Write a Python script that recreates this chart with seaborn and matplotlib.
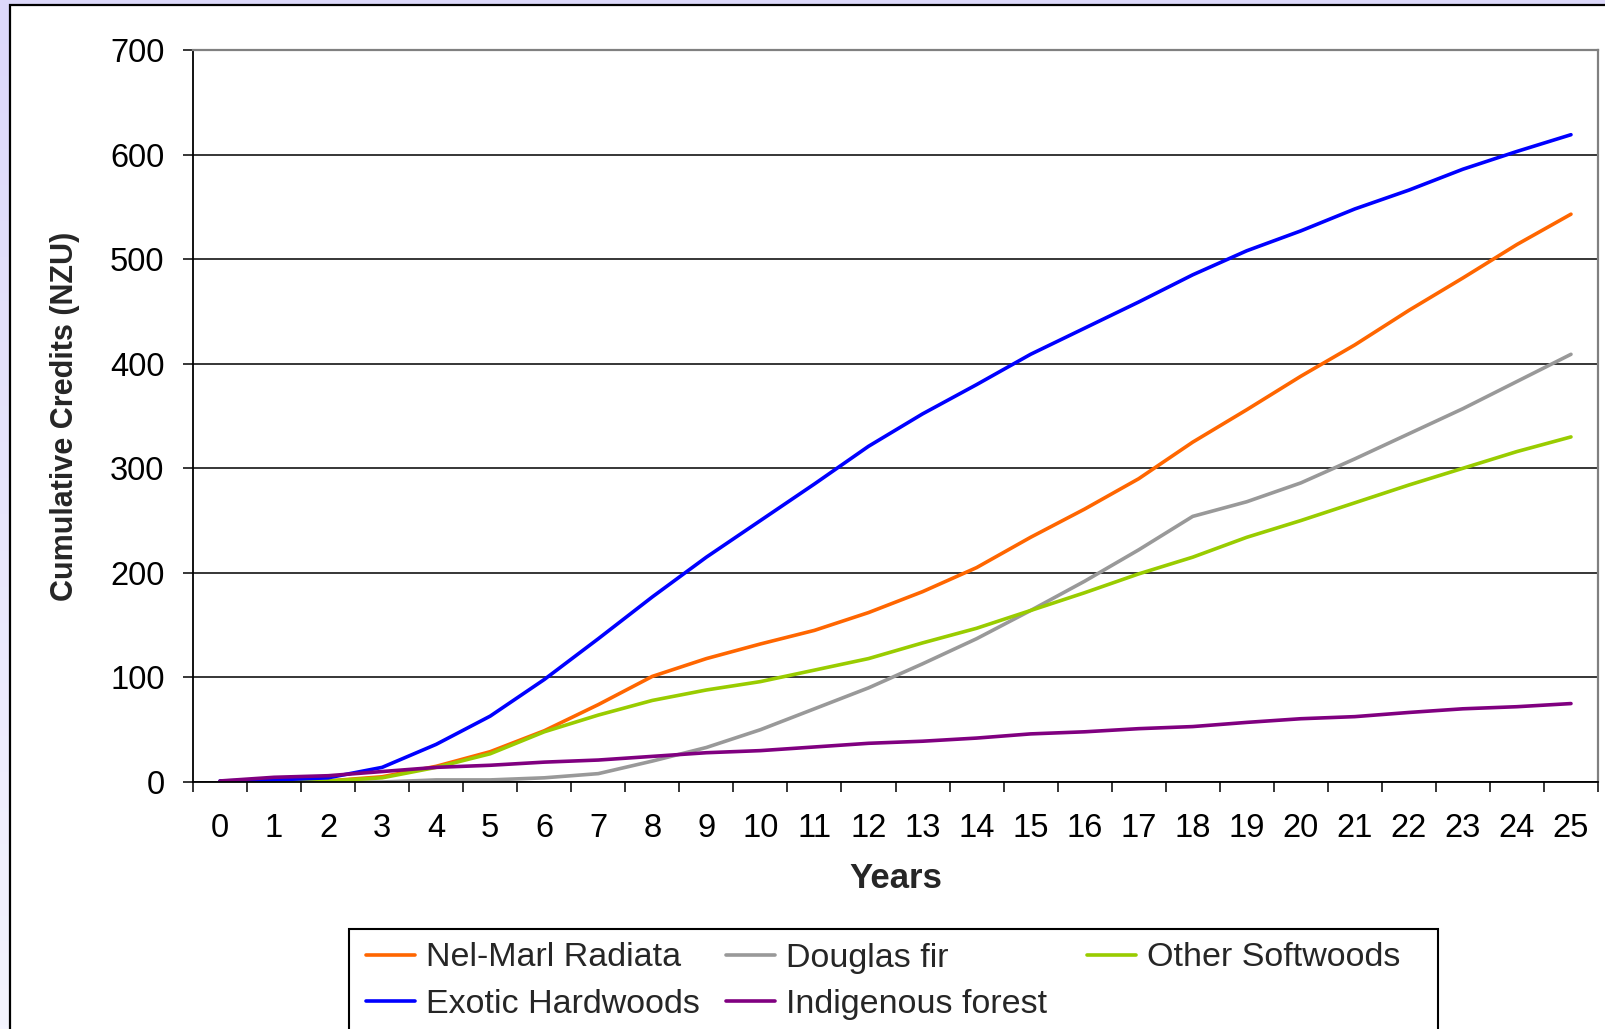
import numpy as np
import pandas as pd
import matplotlib
matplotlib.use("Agg")
import matplotlib.pyplot as plt
import seaborn as sns
from matplotlib.patches import Rectangle
from matplotlib.lines import Line2D

# Cumulative carbon credits (NZU) by years since planting
years = list(range(26))
nel_marl_radiata = [0, 0, 1, 5, 15, 29, 49, 74, 101, 118, 132, 145, 162, 182, 205,
                    234, 261, 290, 325, 356, 388, 418, 451, 482, 514, 543]
douglas_fir = [0, 0, 0, 0, 2, 2, 4, 8, 20, 33, 50, 70, 90, 113, 137,
               164, 192, 222, 254, 268, 286, 309, 333, 357, 383, 409]
other_softwoods = [0, 0, 1, 4, 14, 27, 48, 64, 78, 88, 96, 107, 118, 133, 147,
                   164, 181, 199, 215, 234, 250, 267, 284, 300, 316, 330]
exotic_hardwoods = [1, 2, 4, 14, 36, 63, 98, 137, 177, 215, 250, 285, 321, 352, 380,
                    409, 434, 459, 485, 508, 527, 548, 566, 586, 603, 619]
indigenous_forest = [1, 4.5, 6, 10, 14, 16, 19, 21, 24.5, 28, 30, 33.5, 37, 39, 42,
                     46, 48, 51, 53, 57, 60.5, 62.5, 66.5, 70, 72, 75]

series_names = ["Nel-Marl Radiata", "Douglas fir", "Other Softwoods",
                "Exotic Hardwoods", "Indigenous forest"]
series_values = [nel_marl_radiata, douglas_fir, other_softwoods,
                 exotic_hardwoods, indigenous_forest]
series_colors = ["#FF6600", "#999999", "#99CC00", "#0000FF", "#800080"]
# legend laid out in three equal-width columns
legend_columns = [["Nel-Marl Radiata", "Exotic Hardwoods"],
                  ["Douglas fir", "Indigenous forest"],
                  ["Other Softwoods"]]

df = pd.concat(
    [pd.DataFrame({"Year": years, "Credits": vals, "Series": name})
     for name, vals in zip(series_names, series_values)],
    ignore_index=True,
)
palette = dict(zip(series_names, series_colors))

sns.set_style("white")
plt.rcParams["font.family"] = ["Liberation Sans", "DejaVu Sans"]

W, H = 1606, 1029
fig = plt.figure(figsize=(W / 100, H / 100), dpi=100)

# lavender page background with soft vertical fade
bg = fig.add_axes([0, 0, 1, 1], zorder=-10)
grad = np.linspace(0, 1, 256).reshape(-1, 1)
top_c = np.array([220, 216, 250]) / 255
bot_c = np.array([244, 244, 255]) / 255
img = top_c[None, None, :] * (1 - grad[..., None]) + bot_c[None, None, :] * grad[..., None]
bg.imshow(img, aspect="auto", extent=[0, 1, 0, 1])
bg.set_axis_off()

# white chart panel with black border
fig.patches.append(Rectangle((10 / W, -0.05), 1.2, 1 - 5 / H + 0.05,
                             transform=fig.transFigure, facecolor="white",
                             edgecolor="black", linewidth=1.6, zorder=-5))

ax = fig.add_axes([193 / W, 1 - 782 / H, (1598 - 193) / W, (782 - 50) / H])
ax.set_facecolor("white")
sns.lineplot(data=df, x="Year", y="Credits", hue="Series", hue_order=series_names,
             palette=palette, linewidth=2.6, legend=False, sort=False, ax=ax)

ax.set_xlim(-0.5, 25.5)
ax.set_ylim(0, 700)
ax.set_xticks(years)
ax.set_xticklabels([str(y) for y in years])
ax.set_xticks(np.arange(-0.5, 26, 1), minor=True)
ax.set_yticks(range(0, 701, 100))

ax.tick_params(axis="x", which="major", bottom=True, length=0, pad=22,
               labelsize=23.5, labelcolor="black")
ax.tick_params(axis="x", which="minor", bottom=True, length=7.5, width=1.1,
               color="black", direction="out")
ax.tick_params(axis="y", which="major", left=True, length=7.5, width=1.1,
               color="black", direction="out", pad=13, labelsize=23.5,
               labelcolor="black")

ax.grid(axis="y", color="black", linewidth=1.1)
ax.grid(axis="x", visible=False)
ax.set_axisbelow(True)

for side in ("left", "bottom"):
    ax.spines[side].set_color("black")
    ax.spines[side].set_linewidth(1.3)
for side in ("top", "right"):
    ax.spines[side].set_color("#808080")
    ax.spines[side].set_linewidth(1.6)

ax.set_xlabel("Years", fontsize=25, fontweight="bold", va="center")
ax.xaxis.set_label_coords(0.5, (782 - 878) / 732)
ax.set_ylabel("Cumulative Credits (NZU)", fontsize=22, fontweight="bold", va="center")
ax.yaxis.set_label_coords((65 - 193) / 1405, 0.5)

# legend frame
fig.patches.append(Rectangle((349 / W, -0.05), (1438 - 349) / W, 1 - 929 / H + 0.05,
                             transform=fig.transFigure, facecolor="white",
                             edgecolor="black", linewidth=1.5, zorder=1))

col_x = [366, 726, 1087]
for x0, names in zip(col_x, legend_columns):
    hs = [Line2D([], [], color=palette[n], linewidth=2.6) for n in names]
    leg = fig.legend(hs, names, loc="upper left",
                     bbox_to_anchor=(x0 / W, 1 - 942.5 / H),
                     borderaxespad=0, borderpad=0, frameon=False,
                     fontsize=24.5, handlelength=1.44, handletextpad=0.32,
                     labelspacing=0.45)
    leg.set_zorder(2)

fig.savefig("out.png", dpi=100)
